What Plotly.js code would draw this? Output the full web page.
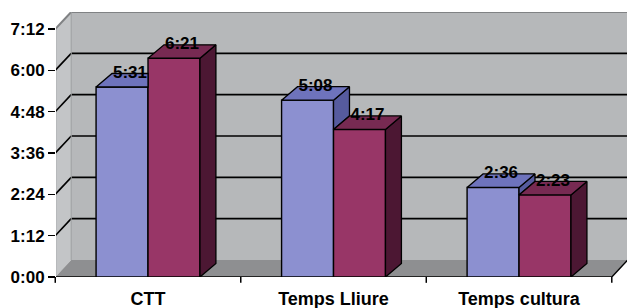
<!DOCTYPE html>
<html>
<head>
<meta charset="utf-8">
<script src="https://cdn.plot.ly/plotly-3.0.1.min.js"></script>
<style>html,body{margin:0;padding:0;background:#fff;}#chart{width:627px;height:308px;}</style>
</head>
<body>
<div id="chart"></div>
<script>
// ---- data (minutes) ----
const categories = ['CTT', 'Temps Lliure', 'Temps cultura'];
const serie1 = [331, 308, 156];   // 5:31, 5:08, 2:36
const serie2 = [381, 257, 143];   // 6:21, 4:17, 2:23
const yTickVals = [0, 72, 144, 216, 288, 360, 432];
const yTickText = ['0:00', '1:12', '2:24', '3:36', '4:48', '6:00', '7:12'];

function fmt(m) { const h = Math.floor(m / 60), mm = m % 60; return h + ':' + (mm < 10 ? '0' : '') + mm; }

// ---- geometry (data units) ----
const BW = 0.28;          // bar width
const DXB = 0.086, DYB = 23.5;   // bar depth offset
const DXW = 0.086, DYW = 29.6;   // wall depth offset
const XMIN = -0.496, XMAX = 2.582, YMAX = 461.6;
const YTOP = yTickVals[yTickVals.length - 1];

const C1 = {front: '#8c90d0', top: '#6e73bc', side: '#565b9e'};
const C2 = {front: '#983667', top: '#772a52', side: '#4c1733'};

const xs = categories.map((c, i) => i);
const traces = [];
traces.push({type: 'bar', x: xs, y: serie1, width: BW, offset: -BW, marker: {color: C1.front, line: {color: '#000', width: 1.4}}, hoverinfo: 'skip'});
traces.push({type: 'bar', x: xs, y: serie2, width: BW, offset: 0, marker: {color: C2.front, line: {color: '#000', width: 1.4}}, hoverinfo: 'skip'});

function poly(pts, color) {
  traces.push({type: 'scatter', mode: 'lines', x: pts.map(p => p[0]).concat([pts[0][0]]), y: pts.map(p => p[1]).concat([pts[0][1]]),
    fill: 'toself', fillcolor: color, line: {color: '#000', width: 1.3}, hoverinfo: 'skip'});
}

xs.forEach(i => {
  const vb = serie1[i], vr = serie2[i];
  const x0 = i - BW, x1 = i, x2 = i + BW;
  if (vb > vr) poly([[x1, vb], [x1 + DXB, vb + DYB], [x1 + DXB, vr + DYB], [x1, vr]], C1.side);
  if (vb >= vr) poly([[x0, vb], [x1, vb], [x1 + DXB, vb + DYB], [x0 + DXB, vb + DYB]], C1.top);
  else poly([[x0, vb], [x1, vb], [x1, Math.min(vr, vb + DYB)], [x0 + DXB, vb + DYB]], C1.top);
  poly([[x2, 0], [x2, vr], [x2 + DXB, vr + DYB], [x2 + DXB, DYB]], C2.side);
  poly([[x1, vr], [x2, vr], [x2 + DXB, vr + DYB], [x1 + DXB, vr + DYB]], C2.top);
});

// value labels
const lx = [], ly = [], lt = [];
xs.forEach(i => {
  lx.push(i - BW / 2 + DXB / 2); ly.push(serie1[i] + DYB); lt.push(fmt(serie1[i]));
  lx.push(i + BW / 2 + DXB / 2); ly.push(serie2[i] + DYB); lt.push(fmt(serie2[i]));
});
traces.push({type: 'scatter', mode: 'text', x: lx, y: ly, text: lt, textposition: 'middle center',
  textfont: {family: 'Liberation Sans, Arial, sans-serif', size: 17, color: '#000', weight: 'bold'}, hoverinfo: 'skip'});

// ---- walls (background shapes) ----
const shapes = [];
function path(pts) { return 'M' + pts.map(p => p[0] + ',' + p[1]).join(' L') + ' Z'; }
const L = -0.5, R = categories.length - 0.5;
shapes.push({type: 'path', xref: 'x', yref: 'y', layer: 'below', path: path([[L + DXW, DYW], [XMAX + 0.1, DYW], [XMAX + 0.1, YTOP + DYW], [L + DXW, YTOP + DYW]]), fillcolor: '#b6b8ba', line: {width: 0}});
shapes.push({type: 'path', xref: 'x', yref: 'y', layer: 'below', path: path([[L, 0], [L, YTOP], [L + DXW, YTOP + DYW], [L + DXW, DYW]]), fillcolor: '#c3c5c7', line: {width: 0}});
shapes.push({type: 'path', xref: 'x', yref: 'y', layer: 'below', path: path([[L, 0], [R, 0], [R + DXW, DYW], [L + DXW, DYW]]), fillcolor: '#8e8f91', line: {width: 0}});
yTickVals.forEach((t, k) => {
  const top = k === yTickVals.length - 1;
  const col = top ? '#808284' : '#000';
  if (t > 0) shapes.push({type: 'line', xref: 'x', yref: 'y', layer: 'below', x0: L + DXW, x1: XMAX + 0.1, y0: t + DYW, y1: t + DYW, line: {color: col, width: top ? 2 : 1.6}});
  if (t > 0) shapes.push({type: 'line', xref: 'x', yref: 'y', layer: 'below', x0: L, x1: L + DXW, y0: t, y1: t + DYW, line: {color: col, width: top ? 2 : 1.6}});
});
shapes.push({type: 'line', xref: 'x', yref: 'y', layer: 'below', x0: L + DXW, x1: L + DXW, y0: DYW, y1: YTOP + DYW, line: {color: '#9a9c9e', width: 1}});
shapes.push({type: 'line', xref: 'x', yref: 'y', layer: 'below', x0: L, x1: L, y0: 0, y1: YTOP, line: {color: '#000', width: 1.6}});
shapes.push({type: 'line', xref: 'x', yref: 'y', layer: 'below', x0: L, x1: R, y0: 0, y1: 0, line: {color: '#000', width: 1.6}});
shapes.push({type: 'line', xref: 'x', yref: 'y', layer: 'below', x0: R, x1: R + DXW, y0: 0, y1: DYW, line: {color: '#000', width: 1.4}});
// category separator tick marks below the axis
for (let b = L; b <= R + 1e-9; b += 1) {
  const px = (b - XMIN) / (XMAX - XMIN);
  shapes.push({type: 'line', xref: 'paper', yref: 'paper', x0: px, x1: px, y0: 0, y1: -0.022, line: {color: '#000', width: 1.5}});
}

const layout = {
  width: 627, height: 308,
  margin: {l: 56, r: 0, t: 12, b: 31, pad: 0},
  paper_bgcolor: '#fff', plot_bgcolor: '#fff',
  showlegend: false,
  barmode: 'overlay',
  xaxis: {range: [XMIN, XMAX], tickvals: xs, ticktext: categories, ticks: '', showgrid: false, zeroline: false, showline: false,
    ticklabelstandoff: 9,
    tickfont: {family: 'Liberation Sans, Arial, sans-serif', size: 18, color: '#000', weight: 'bold'}},
  yaxis: {range: [0, YMAX], tickvals: yTickVals, ticktext: yTickText, ticks: 'outside', ticklen: 7, tickwidth: 1.6, tickcolor: '#000',
    showgrid: false, zeroline: false, showline: false,
    tickfont: {family: 'Liberation Sans, Arial, sans-serif', size: 17, color: '#000', weight: 'bold'}},
  shapes: shapes
};

Plotly.newPlot('chart', traces, layout, {staticPlot: true, displayModeBar: false});
</script>
</body>
</html>
